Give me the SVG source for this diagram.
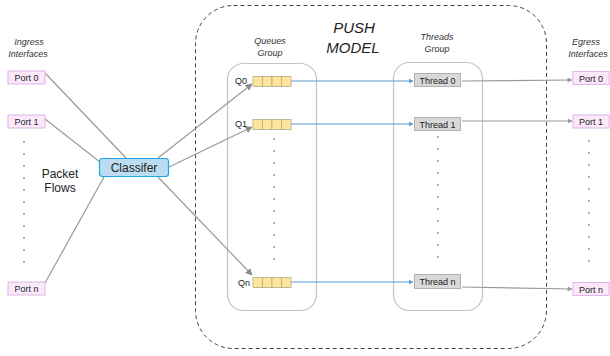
<svg xmlns="http://www.w3.org/2000/svg" width="610" height="356" viewBox="0 0 610 356">
  <style>
    text { font-family: "Liberation Sans", Arial, sans-serif; fill: #222; }
    .cap { font-size: 9px; font-style: italic; text-anchor: middle; fill: #333; }
    .port rect { fill: #fbe8fb; stroke: #dcb4e6; stroke-width: 1; }
    .port text { font-size: 9px; text-anchor: middle; }
    .thread rect { fill: #d9d9d9; stroke: #b0b0b0; stroke-width: 1; }
    .thread text { font-size: 9px; text-anchor: middle; }
    .cell { fill: #ffe59a; stroke: #b3aa8c; stroke-width: 0.8; }
    .queue text { font-size: 9px; text-anchor: end; }
    .group { fill: none; stroke: #c4c4c4; stroke-width: 1.2; }
    .dot { fill: #888; }
    .gline { stroke: #999; stroke-width: 1.2; fill: none; }
    .bline { stroke: #5b9bd5; stroke-width: 1.2; fill: none; }
  </style>
  <defs>
    <marker id="arrGray" viewBox="0 0 10 10" refX="9" refY="5" markerWidth="7" markerHeight="7" markerUnits="userSpaceOnUse" orient="auto">
      <path d="M0,0 L10,5 L0,10 z" fill="#8a8a8a"/>
    </marker>
    <marker id="arrSmallGray" viewBox="0 0 10 10" refX="9" refY="5" markerWidth="5" markerHeight="5" markerUnits="userSpaceOnUse" orient="auto">
      <path d="M0,0 L10,5 L0,10 z" fill="#999"/>
    </marker>
    <marker id="arrBlue" viewBox="0 0 10 10" refX="9" refY="5" markerWidth="5" markerHeight="5" markerUnits="userSpaceOnUse" orient="auto">
      <path d="M0,0 L10,5 L0,10 z" fill="#5b9bd5"/>
    </marker>
    <!-- four-slot queue, cells styled inline so they render inside <use> -->
    <g id="qcells" fill="#ffe59a" stroke="#b3aa8c" stroke-width="0.8">
      <rect x="0" y="0" width="9.5" height="10"/>
      <rect x="9.5" y="0" width="9.5" height="10"/>
      <rect x="19" y="0" width="9.5" height="10"/>
      <rect x="28.5" y="0" width="9.5" height="10"/>
    </g>
  </defs>

  <rect width="610" height="356" fill="#ffffff"/>

  <!-- push model frame -->
  <g id="push-model">
    <rect x="195.5" y="5.5" width="351" height="343" rx="38" ry="38" fill="none" stroke="#444" stroke-width="1" stroke-dasharray="4,3"/>
    <text x="354" y="33" font-size="15" font-style="italic" text-anchor="middle">PUSH</text>
    <text x="353" y="53" font-size="15" font-style="italic" text-anchor="middle">MODEL</text>
  </g>

  <!-- captions -->
  <g id="captions">
    <text class="cap" x="29" y="45">Ingress</text>
    <text class="cap" x="28" y="57">Interfaces</text>
    <text class="cap" x="270" y="44">Queues</text>
    <text class="cap" x="270" y="56">Group</text>
    <text class="cap" x="437" y="40">Threads</text>
    <text class="cap" x="437" y="52">Group</text>
    <text class="cap" x="586" y="45">Egress</text>
    <text class="cap" x="588" y="57">Interfaces</text>
    <text x="60" y="178" font-size="12" text-anchor="middle">Packet</text>
    <text x="60" y="192" font-size="12" text-anchor="middle">Flows</text>
  </g>

  <!-- group frames -->
  <rect id="queues-group" class="group" x="227.5" y="63.5" width="89" height="247" rx="16" ry="16"/>
  <rect id="threads-group" class="group" x="393.5" y="62.5" width="89" height="248" rx="16" ry="16"/>

  <!-- vertical ellipsis dots -->
  <g id="ellipses" class="dot">
    <circle cx="24" cy="142" r="0.9"/><circle cx="24" cy="154" r="0.9"/><circle cx="24" cy="166" r="0.9"/><circle cx="24" cy="178" r="0.9"/><circle cx="24" cy="190" r="0.9"/><circle cx="24" cy="202" r="0.9"/><circle cx="24" cy="214" r="0.9"/><circle cx="24" cy="226" r="0.9"/><circle cx="24" cy="238" r="0.9"/><circle cx="24" cy="250" r="0.9"/><circle cx="24" cy="262" r="0.9"/>
    <circle cx="274" cy="139" r="0.9"/><circle cx="274" cy="151" r="0.9"/><circle cx="274" cy="163" r="0.9"/><circle cx="274" cy="175" r="0.9"/><circle cx="274" cy="187" r="0.9"/><circle cx="274" cy="199" r="0.9"/><circle cx="274" cy="211" r="0.9"/><circle cx="274" cy="223" r="0.9"/><circle cx="274" cy="235" r="0.9"/><circle cx="274" cy="247" r="0.9"/><circle cx="274" cy="259" r="0.9"/>
    <circle cx="438" cy="137" r="0.9"/><circle cx="438" cy="149" r="0.9"/><circle cx="438" cy="161" r="0.9"/><circle cx="438" cy="173" r="0.9"/><circle cx="438" cy="185" r="0.9"/><circle cx="438" cy="197" r="0.9"/><circle cx="438" cy="209" r="0.9"/><circle cx="438" cy="221" r="0.9"/><circle cx="438" cy="233" r="0.9"/><circle cx="438" cy="245" r="0.9"/><circle cx="438" cy="257" r="0.9"/>
    <circle cx="589" cy="141" r="0.9"/><circle cx="589" cy="153" r="0.9"/><circle cx="589" cy="165" r="0.9"/><circle cx="589" cy="177" r="0.9"/><circle cx="589" cy="189" r="0.9"/><circle cx="589" cy="201" r="0.9"/><circle cx="589" cy="213" r="0.9"/><circle cx="589" cy="225" r="0.9"/><circle cx="589" cy="237" r="0.9"/><circle cx="589" cy="249" r="0.9"/><circle cx="589" cy="261" r="0.9"/>
  </g>

  <!-- connectors -->
  <g id="connectors">
    <line class="gline" x1="45" y1="73" x2="126" y2="158"/>
    <line class="gline" x1="45" y1="119" x2="100" y2="162"/>
    <line class="gline" x1="45" y1="283" x2="104" y2="177"/>
    <line class="gline" x1="158" y1="158" x2="252" y2="84" marker-end="url(#arrGray)"/>
    <line class="gline" x1="169" y1="167" x2="252" y2="127" marker-end="url(#arrGray)"/>
    <line class="gline" x1="158" y1="177" x2="252" y2="275" marker-end="url(#arrGray)"/>
    <line class="bline" x1="291" y1="81" x2="413" y2="81" marker-end="url(#arrBlue)"/>
    <line class="bline" x1="291" y1="124" x2="413" y2="124" marker-end="url(#arrBlue)"/>
    <line class="bline" x1="291" y1="282" x2="413" y2="282" marker-end="url(#arrBlue)"/>
    <line class="gline" x1="462" y1="81" x2="572" y2="80" marker-end="url(#arrSmallGray)"/>
    <line class="gline" x1="462" y1="121" x2="572" y2="121" marker-end="url(#arrSmallGray)"/>
    <line class="gline" x1="462" y1="287" x2="572" y2="289" marker-end="url(#arrSmallGray)"/>
  </g>

  <!-- ingress ports -->
  <g id="in-port-0" class="port"><rect x="8" y="71" width="37" height="13"/><text x="26.5" y="81">Port 0</text></g>
  <g id="in-port-1" class="port"><rect x="8" y="115" width="37" height="13"/><text x="26.5" y="125">Port 1</text></g>
  <g id="in-port-n" class="port"><rect x="8" y="282" width="37" height="13"/><text x="26.5" y="292">Port n</text></g>

  <!-- classifier -->
  <g id="classifier">
    <rect x="99.5" y="158.5" width="69" height="18" rx="3" ry="3" fill="#bcdcf2" stroke="#1ba6e8" stroke-width="1.2"/>
    <text x="134" y="172" font-size="12" text-anchor="middle">Classifer</text>
  </g>

  <!-- queues -->
  <g id="queue-0" class="queue"><use href="#qcells" x="253" y="76.5"/><text x="247" y="84">Q0</text></g>
  <g id="queue-1" class="queue"><use href="#qcells" x="253" y="119.5"/><text x="247" y="127">Q1</text></g>
  <g id="queue-n" class="queue"><use href="#qcells" x="253" y="277.5"/><text x="250" y="286">Qn</text></g>

  <!-- threads -->
  <g id="thread-0" class="thread"><rect x="414.5" y="73.5" width="46" height="13"/><text x="437.5" y="83.5">Thread 0</text></g>
  <g id="thread-1" class="thread"><rect x="414.5" y="117.5" width="46" height="13"/><text x="437.5" y="127.5">Thread 1</text></g>
  <g id="thread-n" class="thread"><rect x="414.5" y="274.5" width="46" height="14"/><text x="437.5" y="285">Thread n</text></g>

  <!-- egress ports -->
  <g id="out-port-0" class="port"><rect x="573" y="71.5" width="36" height="13"/><text x="591" y="81.5">Port 0</text></g>
  <g id="out-port-1" class="port"><rect x="573" y="115" width="36" height="13"/><text x="591" y="125">Port 1</text></g>
  <g id="out-port-n" class="port"><rect x="573" y="282.5" width="36" height="13"/><text x="591" y="292.5">Port n</text></g>
</svg>
